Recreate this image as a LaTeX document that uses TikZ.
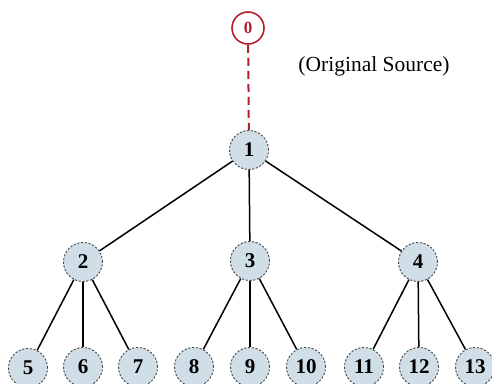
\documentclass[tikz,border=0pt]{standalone}
\usepackage{fontspec}
\setmainfont{Liberation Serif}
\definecolor{nodefill}{RGB}{208,222,232}
\definecolor{nodeline}{RGB}{70,70,70}
\definecolor{srcred}{RGB}{180,30,45}
\begin{document}
\begin{tikzpicture}[x=1pt,y=-1pt,
  vert/.style={circle, draw=nodeline, line width=0.9pt, dash pattern=on 2.2pt off 1.6pt,
    fill=nodefill, minimum size=39pt, inner sep=0pt, font=\fontsize{21}{21}\selectfont\bfseries},
  srcnode/.style={circle, draw=srcred, line width=1.6pt, fill=white, minimum size=32pt,
    inner sep=0pt, text=srcred, font=\fontsize{17}{17}\selectfont\bfseries},
  tree/.style={line width=1.5pt, black},
  srclink/.style={line width=2pt, srcred, dash pattern=on 8pt off 5pt}]
\useasboundingbox (0,0) rectangle (492,383);
\node[srcnode] (n0) at (248,28) {0};
\node[font=\fontsize{21.5}{21.5}\selectfont] (lbl) at (374,66) {(Original Source)};
\node[vert] (n1) at (249,150) {1};
\node[vert] (n2) at (83,262) {2};
\node[vert] (n3) at (250,261) {3};
\node[vert] (n4) at (418,262) {4};
\node[vert] (n5) at (28,368) {5};
\node[vert] (n6) at (83,367) {6};
\node[vert] (n7) at (138,367) {7};
\node[vert] (n8) at (194,367) {8};
\node[vert] (n9) at (250,367) {9};
\node[vert] (n10) at (306,367) {10};
\node[vert] (n11) at (364,367) {11};
\node[vert] (n12) at (419,367) {12};
\node[vert] (n13) at (475,367) {13};
\draw[srclink] (n0) -- (n1);
\draw[tree] (n1) -- (n2);
\draw[tree] (n1) -- (n3);
\draw[tree] (n1) -- (n4);
\draw[tree] (n2) -- (n5);
\draw[tree] (n2) -- (n6);
\draw[tree] (n2) -- (n7);
\draw[tree] (n3) -- (n8);
\draw[tree] (n3) -- (n9);
\draw[tree] (n3) -- (n10);
\draw[tree] (n4) -- (n11);
\draw[tree] (n4) -- (n12);
\draw[tree] (n4) -- (n13);
\end{tikzpicture}
\end{document}
